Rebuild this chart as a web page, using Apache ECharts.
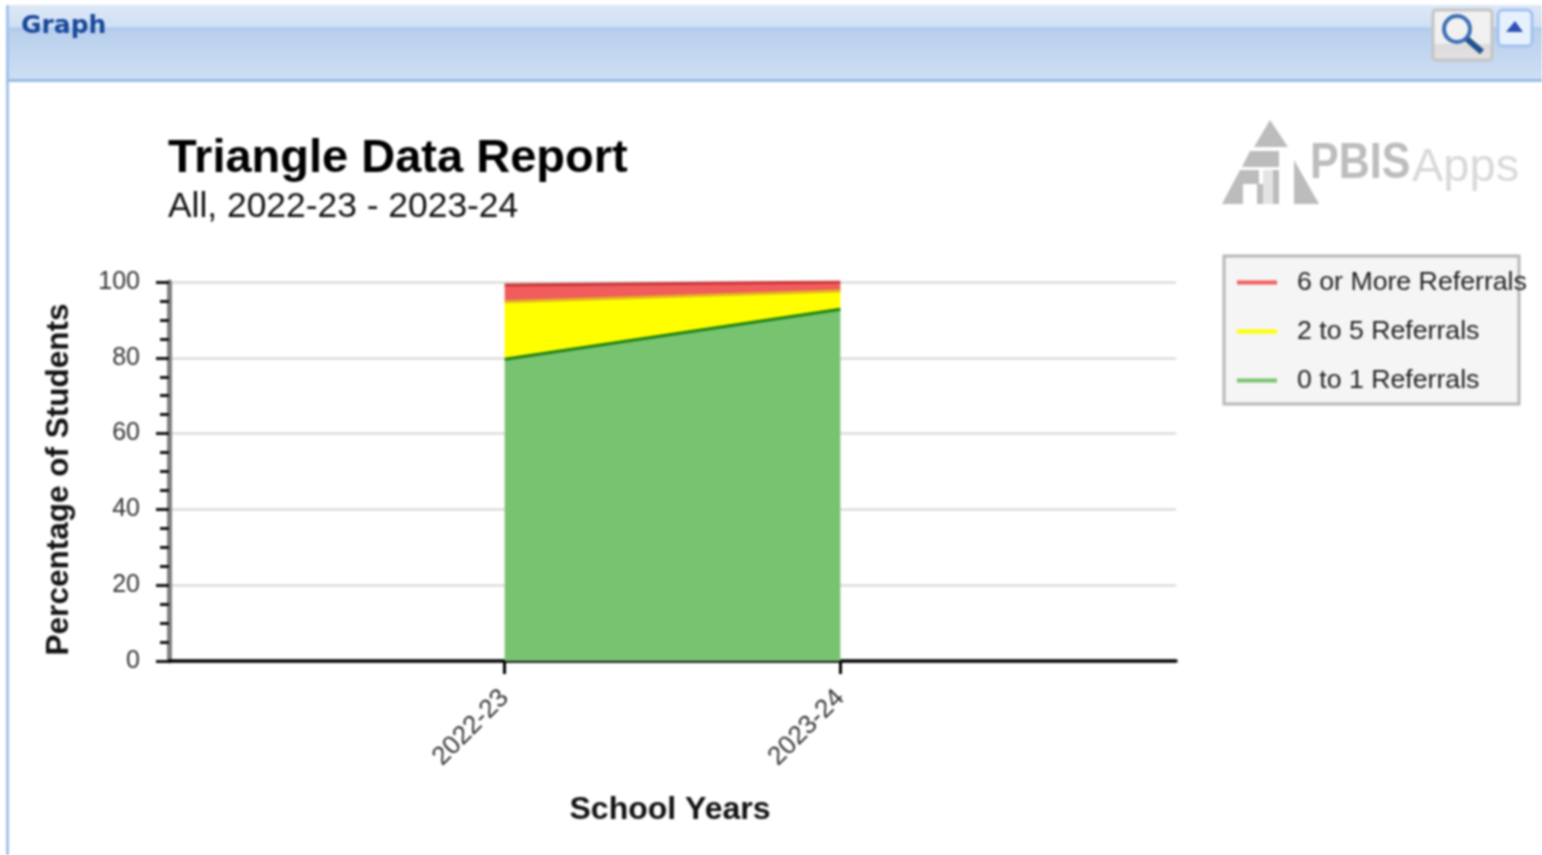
<!DOCTYPE html>
<html><head><meta charset="utf-8">
<style>html,body{margin:0;padding:0;background:#fff}#c{width:1542px;height:855px;filter:blur(0.8px)}</style>
<script src="https://cdn.jsdelivr.net/npm/echarts@6/dist/echarts.min.js"></script>
</head><body><div id="c"></div>
<script>
const years = ['2022-23', '2023-24'];
const zeroToOne = [79.6, 92.8];
const twoToFive = [15.2, 4.8];
const sixOrMore = [4.4, 2.4];
const yTicks = [0, 20, 40, 60, 80, 100];
const titleText = 'Triangle Data Report';
const subtitleText = 'All, 2022-23 - 2023-24';

const FONT = '"Liberation Sans", Arial, sans-serif';
const pad = a => [null, ...a, null];
const categories = ['', ...years, ''];
const areaSeries = (name, values, fill, edge) => ({
  name, type: 'line', stack: 'total', data: pad(values), symbol: 'none',
  color: fill, areaStyle: {color: fill, opacity: 1},
  lineStyle: {color: edge, width: 3}, silent: true
});
const poly = (points, fill) => ({type: 'polygon', shape: {points}, style: {fill}, silent: true});
const logoGrey = '#bcbcbc';

const chart = echarts.init(document.getElementById('c'));
chart.setOption({
  animation: false,
  backgroundColor: '#fff',
  title: {
    left: 163, top: 131, text: titleText, subtext: subtitleText, itemGap: 7,
    textStyle: {fontFamily: FONT, fontSize: 47, fontWeight: 'bold', color: '#000'},
    subtextStyle: {fontFamily: FONT, fontSize: 35.4, color: '#111'}
  },
  grid: {left: 169, top: 282, width: 1007, height: 379},
  xAxis: {
    type: 'category', boundaryGap: false, data: categories,
    name: 'School Years', nameLocation: 'middle', nameGap: 133,
    nameTextStyle: {fontFamily: FONT, fontSize: 32, fontWeight: 'bold', color: '#111', padding: [0, 5, 0, 0]},
    axisLine: {lineStyle: {color: '#000', width: 3.5}},
    axisTick: {length: 13, interval: (i, v) => v !== '', lineStyle: {color: '#000', width: 3}},
    axisLabel: {interval: 0, rotate: 45, fontFamily: FONT, fontSize: 26, color: '#333', margin: 33},
    splitLine: {show: false}
  },
  yAxis: {
    type: 'value', min: yTicks[0], max: yTicks[yTicks.length - 1], interval: 20,
    name: 'Percentage of Students', nameLocation: 'middle', nameGap: 94, nameRotate: 90,
    nameTextStyle: {fontFamily: FONT, fontSize: 31.5, fontWeight: 'bold', color: '#111', padding: [0, 16, 0, 0]},
    axisLine: {show: true, lineStyle: {color: '#808080', width: 5}},
    axisTick: {show: true, length: 13, lineStyle: {color: '#111', width: 3}},
    minorTick: {show: true, splitNumber: 4, length: 9, lineStyle: {color: '#111', width: 3}},
    axisLabel: {fontFamily: FONT, fontSize: 25, color: '#333', margin: 29},
    splitLine: {lineStyle: {color: '#dcdcdc', width: 2.5}}
  },
  legend: {
    orient: 'vertical', left: 1237, top: 269, padding: 0, itemGap: 22,
    itemWidth: 40, itemHeight: 4, icon: 'rect',
    textStyle: {fontFamily: FONT, fontSize: 26.7, color: '#222', padding: [4, 0, 0, 15]},
    data: ['6 or More Referrals', '2 to 5 Referrals', '0 to 1 Referrals'],
    selectedMode: false
  },
  series: [
    areaSeries('0 to 1 Referrals', zeroToOne, '#77c36f', '#1f8218'),
    areaSeries('2 to 5 Referrals', twoToFive, '#ffff00', '#e3b820'),
    areaSeries('6 or More Referrals', sixOrMore, '#f15c5c', '#c93539')
  ],
  graphic: [
    // panel frame and header
    {type: 'rect', z: -10, shape: {x: 6, y: 5, width: 3, height: 850}, style: {fill: '#a3c2ee'}, silent: true},
    {type: 'rect', z: -9, shape: {x: 9, y: 5, width: 1533, height: 74}, silent: true, style: {fill: {
      type: 'linear', x: 0, y: 0, x2: 0, y2: 1, colorStops: [
        {offset: 0, color: '#dde8f7'}, {offset: 0.3, color: '#d0e0f4'},
        {offset: 0.31, color: '#a9c6eb'}, {offset: 0.35, color: '#b9cfec'},
        {offset: 1, color: '#cddff4'}]}}},
    {type: 'rect', z: -8, shape: {x: 6, y: 79, width: 1536, height: 3}, style: {fill: '#9bbbe6'}, silent: true},
    {type: 'text', x: 21, y: 14, silent: true, style: {text: 'Graph', font: 'bold 25px "DejaVu Sans"', fill: '#17479b'}},
    // magnifier button
    {type: 'rect', shape: {x: 1433, y: 10, width: 59, height: 50, r: 3}, silent: true, style: {fill: {
      type: 'linear', x: 0, y: 0, x2: 0, y2: 1, colorStops: [
        {offset: 0, color: '#f2f2f2'}, {offset: 0.66, color: '#f0f0f0'},
        {offset: 0.67, color: '#dcdcdc'}, {offset: 1, color: '#e2e2e2'}]}, stroke: '#c4c4c4', lineWidth: 3}},
    {type: 'circle', shape: {cx: 1457, cy: 29, r: 13}, silent: true, style: {fill: 'transparent', stroke: '#3d70b8', lineWidth: 4}},
    {type: 'line', shape: {x1: 1467, y1: 39, x2: 1482, y2: 52}, silent: true, style: {stroke: '#24508f', lineWidth: 6}},
    // collapse button
    {type: 'rect', shape: {x: 1498, y: 10, width: 34, height: 36, r: 5}, silent: true, style: {fill: '#e6f1fd', stroke: '#a3c2ee', lineWidth: 3}},
    poly([[1515, 21], [1523, 32], [1506, 32]], '#2f4fb5'),
    // PBIS Apps logo
    poly([[1270, 120], [1288, 147], [1254, 147]], logoGrey),
    poly([[1250, 151], [1279, 151], [1279, 167], [1242, 167]], logoGrey),
    poly([[1222, 204], [1243, 204], [1243, 184], [1259, 184], [1259, 170], [1240, 170]], logoGrey),
    {type: 'rect', shape: {x: 1257, y: 184, width: 6, height: 20}, style: {fill: logoGrey}, silent: true},
    {type: 'rect', shape: {x: 1263, y: 170, width: 16, height: 34}, style: {fill: '#e4e4e4'}, silent: true},
    {type: 'rect', shape: {x: 1273, y: 170, width: 6, height: 34}, style: {fill: logoGrey}, silent: true},
    poly([[1294, 160], [1319, 204], [1294, 204]], logoGrey),
    {type: 'text', x: 1310, y: 140, scaleY: 1.15, silent: true, style: {text: 'PBIS', font: 'bold 43px "Liberation Sans"', fill: '#bdbdbd'}},
    {type: 'text', x: 1412, y: 145, silent: true, style: {text: 'Apps', font: '47px "Liberation Sans"', fill: '#d9d9d9'}},
    // legend box
    {type: 'rect', z: -5, shape: {x: 1224, y: 256, width: 295, height: 148}, style: {fill: '#f5f5f5', stroke: '#b8b8b8', lineWidth: 3}, silent: true}
  ]
});
</script></body></html>
